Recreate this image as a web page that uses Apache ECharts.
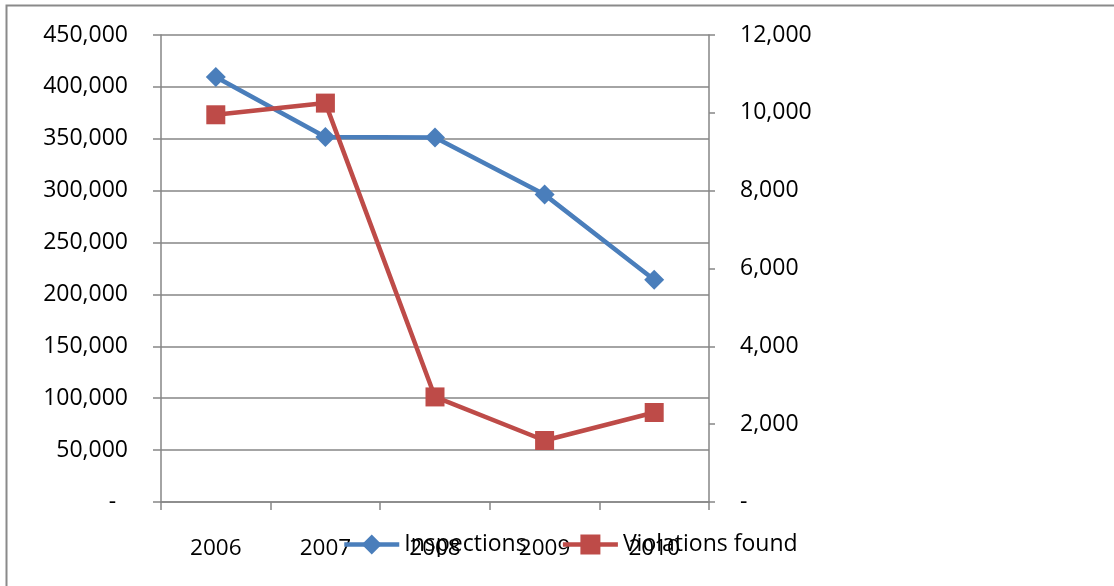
<!DOCTYPE html>
<html>
<head>
<meta charset="utf-8">
<script src="https://cdn.jsdelivr.net/npm/echarts@6/dist/echarts.min.js"></script>
<style>
  html, body { margin: 0; padding: 0; background: #fff; }
  #chart { width: 1114px; height: 586px; }
</style>
</head>
<body>
<div id="chart"></div>
<script>
// Yearly figures
const years = ['2006', '2007', '2008', '2009', '2010'];
const inspections = [409500, 351800, 351200, 296200, 214200];
const violationsFound = [9950, 10250, 2700, 1580, 2300];

// Axis scales
const leftMax = 450000, leftStep = 50000;
const rightMax = 12000, rightStep = 2000;

const FONT = '"Open Sans", "DejaVu Sans", sans-serif';
const GRID_GRAY = '#868686';
const BLUE = '#4a7ebb';
const RED = '#be4b48';

function fmtThousands(v, dash) {
  if (v === 0) return dash;
  return v.toLocaleString('en-US');
}

const chart = echarts.init(document.getElementById('chart'), null, { renderer: 'canvas' });

chart.setOption({
  animation: false,
  backgroundColor: '#ffffff',
  textStyle: { fontFamily: FONT, color: '#000' },
  graphic: [{
    type: 'rect',
    shape: { x: 6.5, y: 5.5, width: 1400, height: 900 },
    style: { fill: 'none', stroke: '#8a8a8a', lineWidth: 2 },
    silent: true
  }],
  grid: { left: 161, right: 405, top: 35, bottom: 84 },
  legend: {
    left: 342,
    top: 533,
    padding: 0,
    itemWidth: 55,
    itemHeight: 25,
    itemGap: 34,
    lineStyle: { width: 4.5 },
    textStyle: { fontFamily: FONT, fontSize: 23, color: '#000', padding: [5, 0, 0, 0] },
    data: ['Inspections', 'Violations found']
  },
  xAxis: {
    type: 'category',
    data: years,
    boundaryGap: true,
    axisLine: { lineStyle: { color: GRID_GRAY, width: 1.5 } },
    axisTick: { show: true, interval: 0, length: 8, lineStyle: { color: GRID_GRAY, width: 1.5 } },
    axisLabel: { fontFamily: FONT, fontSize: 22.5, color: '#000', margin: 35, interval: 0 }
  },
  yAxis: [{
    type: 'value',
    position: 'left',
    min: 0, max: leftMax, interval: leftStep,
    axisLine: { show: true, lineStyle: { color: GRID_GRAY, width: 1.5 } },
    axisTick: { show: true, length: 8, lineStyle: { color: GRID_GRAY, width: 1.5 } },
    splitLine: { show: true, lineStyle: { color: GRID_GRAY, width: 1.5 } },
    axisLabel: {
      fontFamily: FONT, fontSize: 23, color: '#000', margin: 33,
      formatter: v => fmtThousands(v, '-  ')
    }
  }, {
    type: 'value',
    position: 'right',
    min: 0, max: rightMax, interval: rightStep,
    axisLine: { show: true, lineStyle: { color: GRID_GRAY, width: 1.5 } },
    axisTick: { show: true, length: 6, lineStyle: { color: GRID_GRAY, width: 1.5 } },
    splitLine: { show: false },
    axisLabel: {
      fontFamily: FONT, fontSize: 23, color: '#000', margin: 31,
      formatter: v => fmtThousands(v, '-')
    }
  }],
  series: [{
    name: 'Inspections',
    type: 'line',
    yAxisIndex: 0,
    data: inspections,
    symbol: 'diamond',
    symbolSize: 20,
    lineStyle: { color: BLUE, width: 4.5 },
    itemStyle: { color: BLUE },
    z: 3
  }, {
    name: 'Violations found',
    type: 'line',
    yAxisIndex: 1,
    data: violationsFound,
    symbol: 'rect',
    symbolSize: 19,
    lineStyle: { color: RED, width: 4.5 },
    itemStyle: { color: RED },
    z: 4
  }]
});
</script>
</body>
</html>
